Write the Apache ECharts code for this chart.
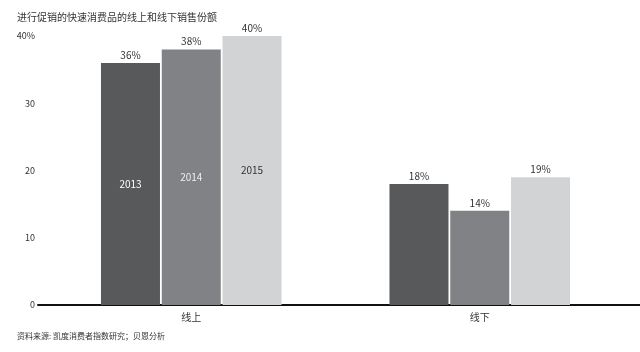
<!DOCTYPE html>
<html>
<head>
<meta charset="utf-8">
<script src="https://cdn.jsdelivr.net/npm/echarts@6/dist/echarts.min.js"></script>
<style>
  html, body { margin: 0; padding: 0; background: #fff; }
  #chart { width: 640px; height: 352px; }
</style>
</head>
<body>
<div id="chart"></div>
<script>
const categories = ['线上', '线下'];
const years = ['2013', '2014', '2015'];
const share2013 = [36, 18];
const share2014 = [38, 14];
const share2015 = [40, 19];
const yTicks = [0, 10, 20, 30, 40];

const seriesValues = [share2013, share2014, share2015];
const barColors = ['#58595b', '#808285', '#d1d3d4'];
const yearLabelColors = ['#ffffff', '#eeeeee', '#333333'];
const font = '"Noto Sans CJK SC", "Noto Sans", sans-serif';

let myChart = echarts.init(document.getElementById('chart'), null, { renderer: 'canvas' });

// 柱子和百分比标签
let barSeries = years.map((y, i) => ({
    name: y,
    type: 'bar',
    xAxisIndex: 1,
    yAxisIndex: 1,
    data: seriesValues[i],
    barWidth: 59,
    barGap: '3%',
    itemStyle: { color: barColors[i] },
    label: {
        show: true,
        position: 'top',
        distance: 3,
        formatter: p => p.value + '%',
        color: '#333',
        fontSize: 10,
        fontFamily: font
    }
}));

// 年份标签只在"线上"组里显示, 放在一个重叠的隐藏轴上
let yearSeries = years.map((y, i) => ({
    name: y + '-label',
    type: 'bar',
    xAxisIndex: 2,
    yAxisIndex: 1,
    data: [seriesValues[i][0], '-'],
    barWidth: 59,
    barGap: '3%',
    silent: true,
    itemStyle: { color: 'rgba(0,0,0,0)' },
    label: {
        show: true,
        position: 'inside',
        formatter: y,
        color: yearLabelColors[i],
        fontSize: 10,
        fontFamily: font
    }
}));

let option = {
    animation: false,
    textStyle: { fontFamily: font },
    title: [
        {
            text: '进行促销的快速消费品的线上和线下销售份额',
            left: 12,
            top: 7,
            textStyle: { fontSize: 10, fontWeight: 'normal', color: '#333', fontFamily: font }
        },
        {
            text: '资料来源: 凯度消费者指数研究；贝恩分析',
            left: 12,
            top: 327,
            textStyle: { fontSize: 8, fontWeight: 'normal', color: '#333', fontFamily: font }
        }
    ],
    grid: [
        { left: 38, right: 0, top: 36, bottom: 47 },
        { left: 47, right: 16, top: 36, bottom: 47 }
    ],
    xAxis: [
        {
            type: 'category',
            gridIndex: 0,
            data: [''],
            axisLine: { lineStyle: { color: '#111', width: 2 } },
            axisTick: { show: false },
            axisLabel: { show: false }
        },
        {
            type: 'category',
            gridIndex: 1,
            data: categories,
            axisLine: { show: false },
            axisTick: { show: false },
            axisLabel: { color: '#333', fontSize: 10, margin: 7, fontFamily: font }
        },
        {
            type: 'category',
            gridIndex: 1,
            data: categories,
            show: false
        }
    ],
    yAxis: [
        {
            type: 'value',
            gridIndex: 0,
            min: yTicks[0],
            max: yTicks[yTicks.length - 1],
            interval: 10,
            axisLine: { show: false },
            axisTick: { show: false },
            splitLine: { show: false },
            axisLabel: {
                color: '#333',
                fontSize: 9,
                margin: 3,
                fontFamily: font,
                formatter: v => v === 40 ? '40%' : v
            }
        },
        {
            type: 'value',
            gridIndex: 1,
            min: 0,
            max: 40,
            show: false
        }
    ],
    series: barSeries.concat(yearSeries)
};
myChart.setOption(option);
</script>
</body>
</html>
